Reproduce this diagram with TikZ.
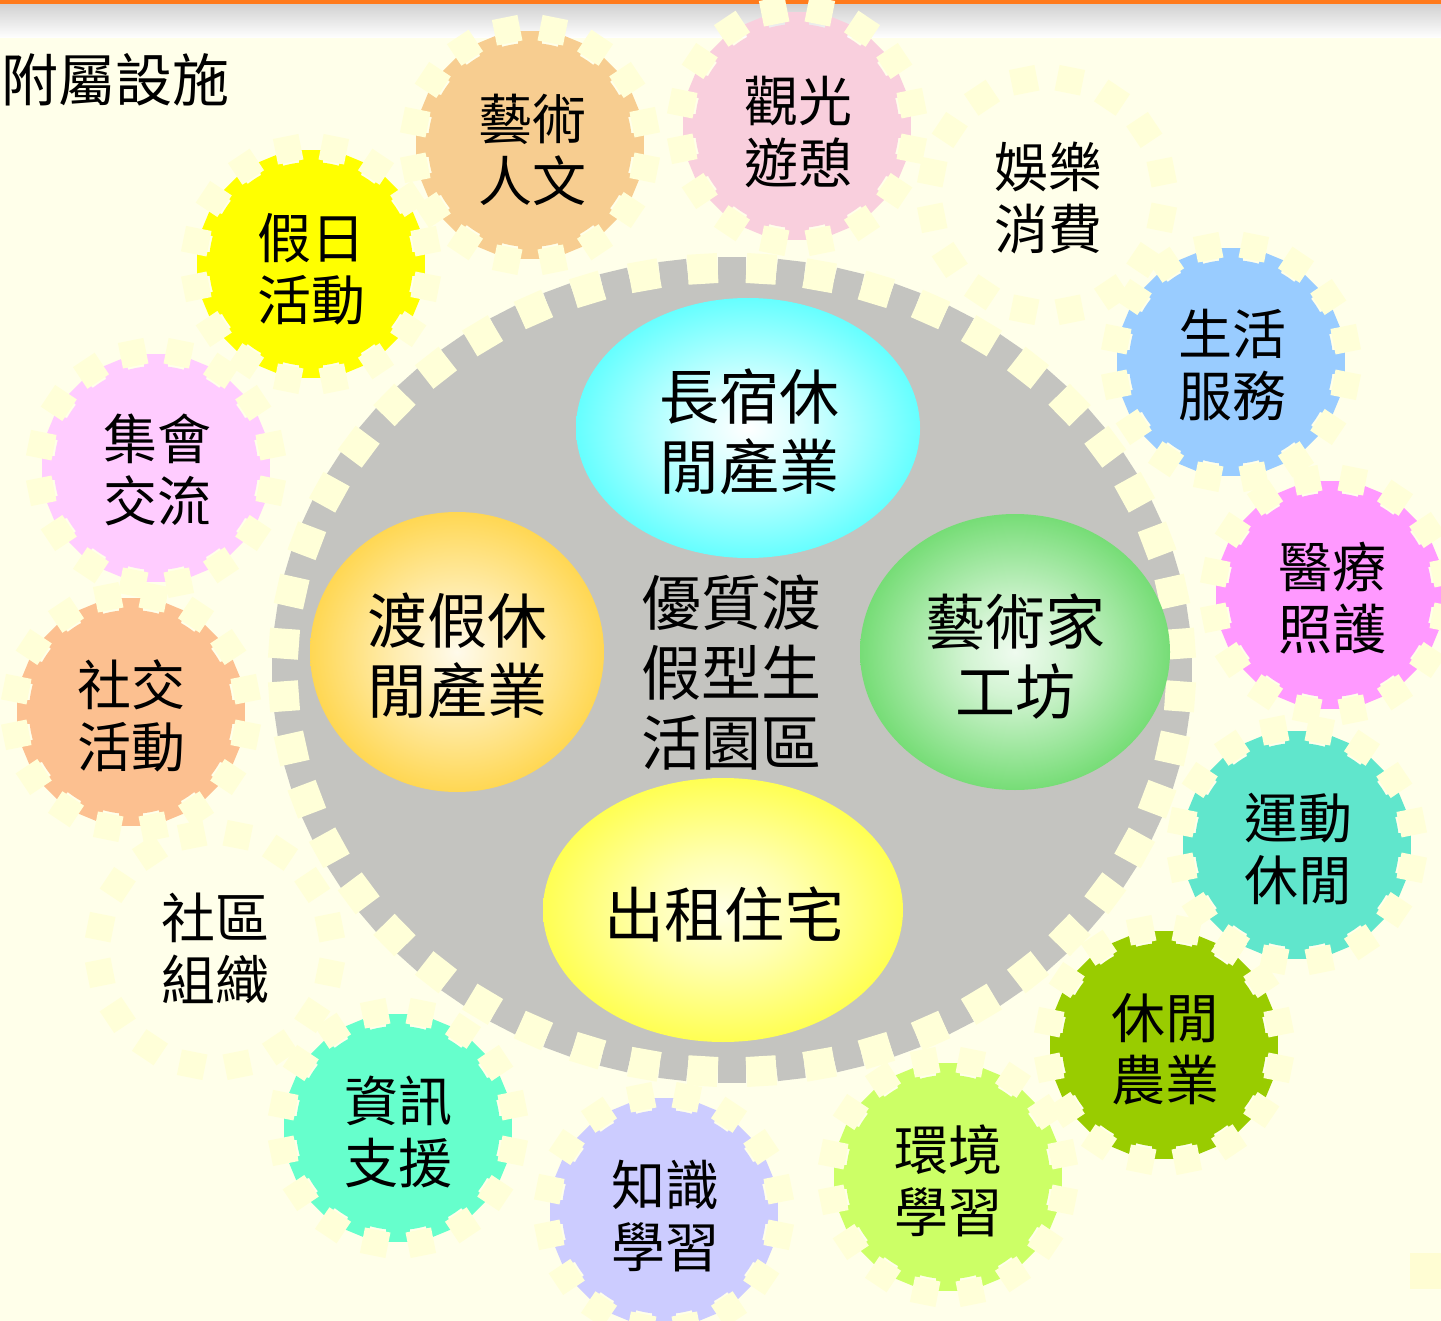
\documentclass[tikz,border=0pt]{standalone}
\usepackage{fontspec}
\newfontfamily\cjk{Noto Sans CJK TC}
\definecolor{bgcream}{HTML}{FFFFEA}
\definecolor{creamsq}{HTML}{FFFFD8}
\definecolor{biggray}{HTML}{C4C4C0}
\definecolor{hdrorange}{HTML}{FF7A1C}
\definecolor{cTan}{HTML}{F7CD90}
\definecolor{cPink}{HTML}{F9CFDD}
\definecolor{cYellow}{HTML}{FFFF00}
\definecolor{cViolet}{HTML}{FFCCFF}
\definecolor{cSalmon}{HTML}{FCC090}
\definecolor{cAqua}{HTML}{66FFCC}
\definecolor{cLav}{HTML}{CCCCFF}
\definecolor{cLime}{HTML}{CCFF66}
\definecolor{cOlive}{HTML}{99CC00}
\definecolor{cTurq}{HTML}{60E6CC}
\definecolor{cMag}{HTML}{FF99FF}
\definecolor{cSky}{HTML}{99CCFF}
\definecolor{eCyan}{HTML}{00FFFF}
\definecolor{eOrange}{HTML}{FFC400}
\definecolor{eGreen}{HTML}{33CC33}
\definecolor{eYellow}{HTML}{FFFF00}
\pgfdeclareradialshading{cyanball}{\pgfpoint{0bp}{0bp}}{color(0bp)=(white); color(8bp)=(eCyan!15!white); color(28bp)=(eCyan!68!white); color(40bp)=(eCyan!93!white); color(44bp)=(eCyan); color(50bp)=(eCyan)}
\pgfdeclareradialshading{orangeball}{\pgfpoint{0bp}{0bp}}{color(0bp)=(eOrange!8!white); color(10bp)=(eOrange!30!white); color(28bp)=(eOrange!75!white); color(40bp)=(eOrange!93!white); color(44bp)=(eOrange); color(50bp)=(eOrange)}
\pgfdeclareradialshading{greenball}{\pgfpoint{0bp}{0bp}}{color(0bp)=(eGreen!8!white); color(8bp)=(eGreen!22!white); color(28bp)=(eGreen!75!white); color(40bp)=(eGreen!93!white); color(44bp)=(eGreen); color(50bp)=(eGreen)}
\pgfdeclareradialshading{yellowball}{\pgfpoint{0bp}{0bp}}{color(0bp)=(eYellow!10!white); color(10bp)=(eYellow!30!white); color(28bp)=(eYellow!75!white); color(40bp)=(eYellow!95!white); color(44bp)=(eYellow); color(50bp)=(eYellow)}
\newcommand{\smallgear}[4]{%
  \fill[#3] (#1,#2) circle[radius=102pt];
  \foreach \k in {0,...,15}{%
    \fill[#3, shift={(#1,#2)}, rotate={-(\k*22.5+#4)}] (92,-12) rectangle (114,12);
  }%
}
\newcommand{\creamring}[3]{%
  \foreach \k in {0,...,15}{%
    \fill[creamsq, shift={(#1,#2)}, rotate={-(\k*22.5+11.25+#3)}] (104,-13) rectangle (130,13);
  }%
}
\tikzset{
  gtext/.style={font=\cjk\fontsize{54}{62}\selectfont, align=center, inner sep=0pt},
  etext/.style={font=\cjk\fontsize{60}{70}\selectfont, align=center, inner sep=0pt},
}
\begin{document}
\begin{tikzpicture}[x=1pt,y=-1pt]
\useasboundingbox (0,0) rectangle (1441,1321);
% background and header
\fill[bgcream] (0,0) rectangle (1441,1321);
\shade[top color=black!18, bottom color=white] (0,4) rectangle (1441,38);
\fill[hdrorange] (0,0) rectangle (1441,4);
\fill[bgcream] (0,38) rectangle (1441,1321);
\fill[yellow!10!bgcream] (1410,1253) rectangle (1441,1289);
% big gear
\fill[biggray] (732,670) ellipse[x radius=445pt, y radius=398pt];
\foreach \k in {0,...,47}{%
  \pgfmathsetmacro\a{\k*7.5}
  \pgfmathsetmacro\nr{atan2(445*sin(\a),398*cos(\a))}
  \fill[biggray, shift={(732,670)}, shift={(\a:445 and 398)}, rotate={-\nr}] (-10,-14) rectangle (15,14);
}
% small gears
\smallgear{530}{145}{cTan}{0}
\smallgear{797}{126}{cPink}{0}
\smallgear{311}{264}{cYellow}{0}
\smallgear{156}{468}{cViolet}{0}
\smallgear{131}{712}{cSalmon}{0}
\smallgear{398}{1128}{cAqua}{0}
\smallgear{664}{1212}{cLav}{0}
\smallgear{948}{1177}{cLime}{0}
\smallgear{1164}{1045}{cOlive}{0}
\smallgear{1297}{845}{cTurq}{0}
\smallgear{1330}{595}{cMag}{0}
\smallgear{1231}{362}{cSky}{0}
% cream squares
\foreach \k in {0,...,47}{%
  \pgfmathsetmacro\a{\k*7.5+3.75}
  \pgfmathsetmacro\nr{atan2(445*sin(\a),398*cos(\a))}
  \fill[creamsq, shift={(732,670)}, shift={(\a:449 and 402)}, rotate={-\nr}] (-15,-15) rectangle (15,15);
}
\creamring{530}{145}{0}
\creamring{797}{126}{0}
\creamring{1047}{195}{0}
\creamring{311}{264}{0}
\creamring{156}{468}{0}
\creamring{131}{712}{0}
\creamring{215}{950}{0}
\creamring{398}{1128}{0}
\creamring{664}{1212}{0}
\creamring{948}{1177}{0}
\creamring{1164}{1045}{0}
\creamring{1297}{845}{0}
\creamring{1330}{595}{0}
\creamring{1231}{362}{0}
% inner ellipses
\shade[shading=cyanball] (748,428) ellipse[x radius=172pt, y radius=130pt];
\shade[shading=orangeball] (457,652) ellipse[x radius=147pt, y radius=140pt];
\shade[shading=greenball] (1015,652) ellipse[x radius=155pt, y radius=138pt];
\shade[shading=yellowball] (723,910) ellipse[x radius=180pt, y radius=132pt];
% texts
\node[anchor=west, font=\cjk\fontsize{57}{60}\selectfont, inner sep=0pt] (title) at (1,80) {附屬設施};
\node[etext] (longstay) at (749,432) {長宿休\\閒產業};
\node[etext] (resort) at (457,656) {渡假休\\閒產業};
\node[etext] (artist) at (1015,656) {藝術家\\工坊};
\node[etext] (rental) at (724,914) {出租住宅};
\node[etext] (core) at (731,673) {優質渡\\假型生\\活園區};
\node[gtext] (arts) at (532,150) {藝術\\人文};
\node[gtext] (tour) at (798,132) {觀光\\遊憩};
\node[gtext] (ent) at (1048,198) {娛樂\\消費};
\node[gtext] (holiday) at (311,269) {假日\\活動};
\node[gtext] (meet) at (157,470) {集會\\交流};
\node[gtext] (social) at (131,716) {社交\\活動};
\node[gtext] (comm) at (215,948) {社區\\組織};
\node[gtext] (info) at (398,1132) {資訊\\支援};
\node[gtext] (know) at (665,1216) {知識\\學習};
\node[gtext] (env) at (948,1181) {環境\\學習};
\node[gtext] (agri) at (1165,1049) {休閒\\農業};
\node[gtext] (sport) at (1298,849) {運動\\休閒};
\node[gtext] (med) at (1332,598) {醫療\\照護};
\node[gtext] (life) at (1232,365) {生活\\服務};
\end{tikzpicture}
\end{document}
